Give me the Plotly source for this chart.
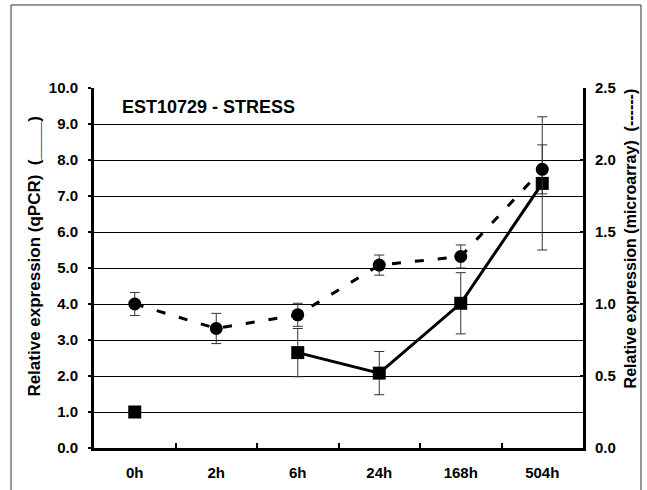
import plotly.graph_objects as go

categories = ["0h", "2h", "6h", "24h", "168h", "504h"]
qpcr_values = [1.0, None, 2.65, 2.08, 4.02, 7.35]
qpcr_errors = [0.0, 0.0, 0.67, 0.60, 0.85, 1.85]
micro_values = [1.0, 0.83, 0.925, 1.27, 1.33, 1.935]
micro_errors = [0.08, 0.105, 0.08, 0.07, 0.08, 0.17]
left_ticks = [0, 1, 2, 3, 4, 5, 6, 7, 8, 9, 10]
right_ticks = [0, 0.5, 1.0, 1.5, 2.0, 2.5]

FONT = "Liberation Sans, Arial, sans-serif"

fig = go.Figure()

fig.add_trace(go.Scatter(
    x=categories, y=qpcr_values, mode="lines+markers",
    connectgaps=False,
    line=dict(color="black", width=3),
    marker=dict(symbol="square", size=13, color="black"),
    error_y=dict(type="data", array=qpcr_errors, visible=True,
                 color="#333333", thickness=1, width=5),
    showlegend=False,
))

fig.add_trace(go.Scatter(
    x=categories, y=micro_values, mode="lines+markers", yaxis="y2",
    line=dict(color="black", width=3, dash="9px,14px"),
    marker=dict(symbol="circle", size=13, color="black"),
    error_y=dict(type="data", array=micro_errors, visible=True,
                 color="#333333", thickness=1, width=5),
    showlegend=False,
))

tickfont = dict(family=FONT, size=15, color="black")

fig.update_layout(
    width=647, height=490, autosize=False,
    margin=dict(l=94, r=64, t=88, b=42, autoexpand=False),
    paper_bgcolor="white", plot_bgcolor="white",
    font=dict(family=FONT, color="black"),
    xaxis=dict(
        type="category", categoryorder="array", categoryarray=categories,
        tickvals=categories, ticktext=[f"<b>{c}</b>" for c in categories],
        range=[-0.5, 5.5], automargin=False,
        showline=True, linewidth=3, linecolor="black",
        ticks="inside", tickson="boundaries", ticklen=5, tickwidth=2, tickcolor="black",
        ticklabelstandoff=9,
        showgrid=False, zeroline=False,
        tickfont=tickfont,
    ),
    yaxis=dict(
        range=[0, 10], tickvals=left_ticks, automargin=False,
        ticktext=[f"<b>{v:.1f}</b>" for v in left_ticks],
        showline=True, linewidth=3, linecolor="black",
        ticks="outside", ticklen=3, tickwidth=2, tickcolor="black",
        ticklabelstandoff=7,
        showgrid=True, gridcolor="black", gridwidth=1, zeroline=False,
        tickfont=tickfont,
    ),
    yaxis2=dict(
        range=[0, 2.5], tickvals=right_ticks, automargin=False,
        ticktext=[f"<b>{v:.1f}</b>" for v in right_ticks],
        overlaying="y", side="right", anchor="x",
        showline=True, linewidth=3, linecolor="black",
        ticks="inside", ticklen=3, tickwidth=2, tickcolor="black",
        ticklabelstandoff=6,
        showgrid=False, zeroline=False,
        tickfont=tickfont,
    ),
    annotations=[
        dict(text="<b>EST10729 - STRESS</b>", xref="paper", yref="paper",
             x=0.053, y=0.9486, xanchor="left", yanchor="middle", showarrow=False,
             font=dict(family=FONT, size=18, color="black")),
        dict(text="<b>Relative expression (qPCR)\u00a0\u00a0(____)</b>", xref="paper", yref="paper",
             x=-0.1217, y=0.533, xanchor="center", yanchor="middle", showarrow=False,
             textangle=-90, font=dict(family=FONT, size=17, color="black")),
        dict(text="<b>Relative expression (microarray)\u00a0\u00a0(------)</b>", xref="paper", yref="paper",
             x=1.098, y=0.582, xanchor="center", yanchor="middle", showarrow=False,
             textangle=-90, font=dict(family=FONT, size=16, color="black")),
    ],
    shapes=[
        dict(type="rect", xref="paper", yref="paper",
             x0=-0.1697, x1=1.1186, y0=-0.3, y1=1.2306,
             line=dict(color="#333333", width=1), fillcolor="rgba(0,0,0,0)", layer="below"),
    ],
)

fig.write_html("out.html", config={"displayModeBar": False},
               post_script="document.body.style.margin='0';document.body.style.overflow='hidden';")
